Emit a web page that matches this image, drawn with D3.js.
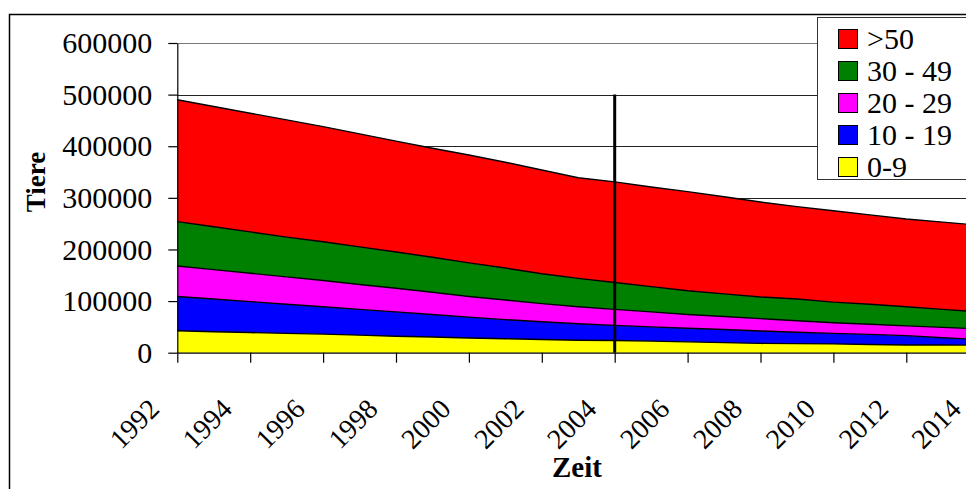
<!DOCTYPE html>
<html>
<head>
<meta charset="utf-8">
<script src="https://cdn.jsdelivr.net/npm/d3@7"></script>
<style>
  body { margin: 0; background: #fff; }
  svg text { font-family: "Liberation Serif", "Times New Roman", serif; }
</style>
</head>
<body>
<div id="chart"></div>
<script>
// values (number of animals per herd size class)
var years = [1992, 1993, 1994, 1995, 1996, 1997, 1998, 1999, 2000, 2001, 2002, 2003,
  2004, 2005, 2006, 2007, 2008, 2009, 2010, 2011, 2012, 2013, 2014];
var s0_9 = [42500, 40500, 39000, 37500, 36000, 34000, 32000, 30500, 28500, 27000, 25500, 24000,
  23500, 22500, 21000, 19500, 18000, 17500, 17000, 16000, 15000, 15000, 14500];
var s10_19 = [66500, 63500, 60000, 56500, 53000, 50000, 47000, 43500, 40500, 37000, 34500, 32000,
  29500, 27500, 26500, 25500, 24000, 22000, 20500, 19500, 18000, 14000, 11000];
var s20_29 = [59000, 57000, 55000, 53000, 51000, 48000, 46000, 43000, 40000, 38000, 35000, 33000,
  31000, 29000, 26500, 25000, 24000, 22500, 20500, 19500, 19000, 20000, 20500];
var s30_49 = [86000, 83000, 80000, 77000, 75000, 73000, 70000, 68000, 65000, 62000, 58000, 55000,
  52000, 49000, 46000, 44000, 42000, 42000, 40000, 39000, 37000, 35000, 33000];
var s50 = [236000, 233000, 230000, 227000, 223000, 219000, 215000, 211000, 209000, 205000, 201000, 195000,
  195000, 193000, 192000, 188000, 184000, 179000, 177000, 173000, 170000, 169000, 168000];

var seriesNames = ["0-9", "10 - 19", "20 - 29", "30 - 49", ">50"];
var seriesColors = ["#ffff00", "#0000ff", "#ff00ff", "#008000", "#ff0000"];
var yTicks = [0, 100000, 200000, 300000, 400000, 500000, 600000];
var xTicks = [1992, 1994, 1996, 1998, 2000, 2002, 2004, 2006, 2008, 2010, 2012, 2014];
var markYear = 2004;      // vertical marker line
var markValue = 500000;

var serif = '"Liberation Serif", "Times New Roman", serif';
var fullWidth = 966;
var fullHeight = 489;

// build rows for the stack
var rows = years.map(function(y, i) {
  return { year: y, "0-9": s0_9[i], "10 - 19": s10_19[i], "20 - 29": s20_29[i],
    "30 - 49": s30_49[i], ">50": s50[i] };
});

var svg = d3.select('#chart').append('svg')
  .attr('width', fullWidth)
  .attr('height', fullHeight)
  .attr('font-family', serif);

// outer frame (runs off the right and bottom edge like the picture)
svg.append('rect')
  .attr('x', 9.5).attr('y', 14.5)
  .attr('width', 1100).attr('height', 600)
  .attr('fill', '#fff')
  .attr('stroke', '#000')
  .attr('stroke-width', 1.5);

var xScale = d3.scaleLinear()
  .domain([1992, 2014])
  .range([177.3, 979.2]);

var yScale = d3.scaleLinear()
  .domain([0, 600000])
  .range([352.7, 43]);

// gridlines
svg.append('g')
  .selectAll('line')
  .data(yTicks.filter(function(d) { return d > 0; }))
  .enter().append('line')
    .attr('x1', xScale(1992))
    .attr('x2', xScale(2014))
    .attr('y1', function(d) { return Math.round(yScale(d)) + 0.5; })
    .attr('y2', function(d) { return Math.round(yScale(d)) + 0.5; })
    .attr('stroke', function(d) { return d === 600000 ? '#777' : '#222'; })
    .attr('stroke-width', 1);

var stack = d3.stack().keys(seriesNames);
var layers = stack(rows);

var area = d3.area()
  .x(function(d) { return xScale(d.data.year); })
  .y0(function(d) { return yScale(d[0]); })
  .y1(function(d) { return yScale(d[1]); });

var topLine = d3.line()
  .x(function(d) { return xScale(d.data.year); })
  .y(function(d) { return yScale(d[1]); });

var areaHolder = svg.append('g');

areaHolder.selectAll('path.area')
    .data(layers)
  .enter().append('path')
    .classed('area', true)
    .attr('d', area)
    .attr('fill', function(d, i) { return seriesColors[i]; });

areaHolder.selectAll('path.edge')
    .data(layers)
  .enter().append('path')
    .classed('edge', true)
    .attr('d', topLine)
    .attr('fill', 'none')
    .attr('stroke', '#000')
    .attr('stroke-width', 1.4);

// marker line at 2004
svg.append('line')
  .attr('x1', xScale(markYear)).attr('x2', xScale(markYear))
  .attr('y1', yScale(markValue)).attr('y2', yScale(0))
  .attr('stroke', '#000')
  .attr('stroke-width', 3);

// axes
var yAxis = d3.axisLeft(yScale)
  .tickValues(yTicks)
  .tickSize(9)
  .tickSizeOuter(0)
  .tickPadding(16)
  .tickFormat(d3.format('d'));

var yG = svg.append('g')
  .attr('transform', 'translate(' + xScale(1992) + ',0)')
  .call(yAxis)
  .attr('font-family', serif)
  .attr('font-size', 30);
yG.selectAll('text').attr('fill', '#000');
yG.selectAll('line, path').attr('stroke', '#000').attr('stroke-width', 1.2);

var xAxis = d3.axisBottom(xScale)
  .tickValues(xTicks)
  .tickSize(10)
  .tickSizeOuter(0)
  .tickFormat(d3.format('d'));

var xG = svg.append('g')
  .attr('transform', 'translate(0,' + yScale(0) + ')')
  .call(xAxis)
  .attr('font-family', serif)
  .attr('font-size', 28);
xG.selectAll('line, path').attr('stroke', '#000').attr('stroke-width', 1.2);
xG.selectAll('text')
  .attr('fill', '#000')
  .attr('y', 0)
  .attr('dy', 0)
  .attr('text-anchor', 'end')
  .attr('transform', 'translate(-17,58) rotate(-45)');

// axis titles
svg.append('text')
  .attr('transform', 'translate(45,182) rotate(-90)')
  .attr('text-anchor', 'middle')
  .attr('font-weight', 'bold')
  .attr('font-size', 27)
  .text('Tiere');

svg.append('text')
  .attr('x', 577)
  .attr('y', 477)
  .attr('text-anchor', 'middle')
  .attr('font-weight', 'bold')
  .attr('font-size', 29)
  .text('Zeit');

// legend
var legendNames = seriesNames.slice().reverse();
var legendColors = seriesColors.slice().reverse();

svg.append('clipPath')
  .attr('id', 'legclip')
  .append('rect')
    .attr('x', 817).attr('y', 17).attr('width', 300).attr('height', 163);

var legend = svg.append('g');
legend.append('rect')
  .attr('x', 817.5).attr('y', 17.5)
  .attr('width', 300).attr('height', 162)
  .attr('fill', '#fff')
  .attr('stroke', '#333')
  .attr('stroke-width', 1);

var items = legend.append('g')
  .attr('clip-path', 'url(#legclip)')
  .selectAll('g')
  .data(legendNames)
  .enter().append('g')
    .attr('transform', function(d, i) { return 'translate(838,' + (39 + i * 32) + ')'; });

items.append('rect')
  .attr('x', 0.5).attr('y', -9.5)
  .attr('width', 19).attr('height', 19)
  .attr('fill', function(d, i) { return legendColors[i]; })
  .attr('stroke', '#000')
  .attr('stroke-width', 1);

items.append('text')
  .attr('x', 29)
  .attr('y', 10)
  .attr('font-family', serif)
  .attr('font-size', 30)
  .text(function(d) { return d; });
</script>
</body>
</html>
